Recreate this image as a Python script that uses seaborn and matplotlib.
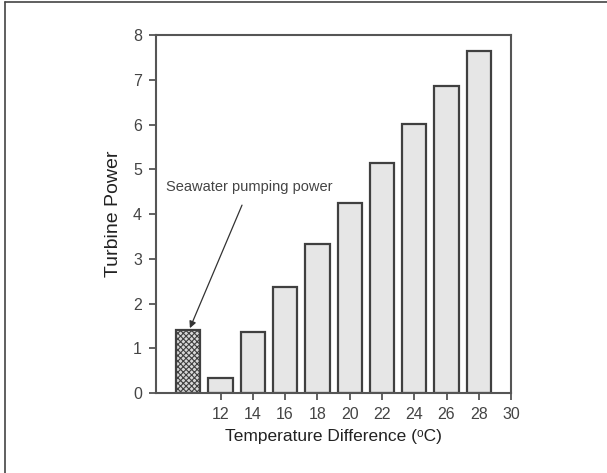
import numpy as np
import seaborn as sns
from matplotlib import pyplot as plt
from matplotlib.lines import Line2D

# Данные графика
temp_diff = [10, 12, 14, 16, 18, 20, 22, 24, 26, 28]  # 10 = насосы морской воды
turbine_power = [1.40, 0.33, 1.36, 2.37, 3.32, 4.25, 5.15, 6.02, 6.85, 7.65]
x_ticks = [12, 14, 16, 18, 20, 22, 24, 26, 28, 30]
y_ticks = [0, 1, 2, 3, 4, 5, 6, 7, 8]
note = 'Seawater pumping power'

sns.set_theme(style="ticks")
plt.rcParams['font.family'] = ['Liberation Sans', 'DejaVu Sans']
plt.rcParams['hatch.color'] = '#555555'
plt.rcParams['hatch.linewidth'] = 0.8

fig = plt.figure(figsize=(6.07, 4.73), dpi=100)
ax = fig.add_axes([0.257, 0.169, 0.585, 0.757])

sns.barplot(x=temp_diff, y=turbine_power, native_scale=True, width=0.75,
            color='#e6e6e6', edgecolor='#404040', linewidth=1.6,
            saturation=1, ax=ax)

# первый столбик - мощность насосов, заштрихован
pump_bar = ax.patches[0]
pump_bar.set_facecolor('#d8d8d8')
pump_bar.set_hatch('xxxxxx')

ax.set_xlim(8, 30)
ax.set_ylim(0, 8)
ax.set_xticks(x_ticks)
ax.set_yticks(y_ticks)
ax.set_xlabel('Temperature Difference (ᵒC)', fontsize=12.5, color='#222222', labelpad=5)
ax.set_ylabel('Turbine Power', fontsize=14, color='#222222', labelpad=8)

for side in ['left', 'right', 'top', 'bottom']:
    ax.spines[side].set_visible(True)
    ax.spines[side].set_color('#555555')
    ax.spines[side].set_linewidth(1.5)
ax.tick_params(axis='both', direction='out', length=5, width=1.3, color='#555555',
               labelsize=11.5, labelcolor='#444444', pad=5)

ax.annotate(note, xy=(10.1, 1.45), xytext=(13.8, 4.6),
            ha='center', va='center', fontsize=10.5, color='#444444',
            arrowprops=dict(arrowstyle='-|>', color='#333333', lw=0.9,
                            shrinkA=6, shrinkB=0, mutation_scale=10))

# рамка скриншота (верх и лево)
fig.add_artist(Line2D([5 / 607, 5 / 607], [0, 1 - 2.5 / 473], transform=fig.transFigure,
                      color='#444444', lw=1.2))
fig.add_artist(Line2D([5 / 607, 1], [1 - 2.5 / 473, 1 - 2.5 / 473], transform=fig.transFigure,
                      color='#444444', lw=1.2))

fig.savefig('out.png', dpi=100)
